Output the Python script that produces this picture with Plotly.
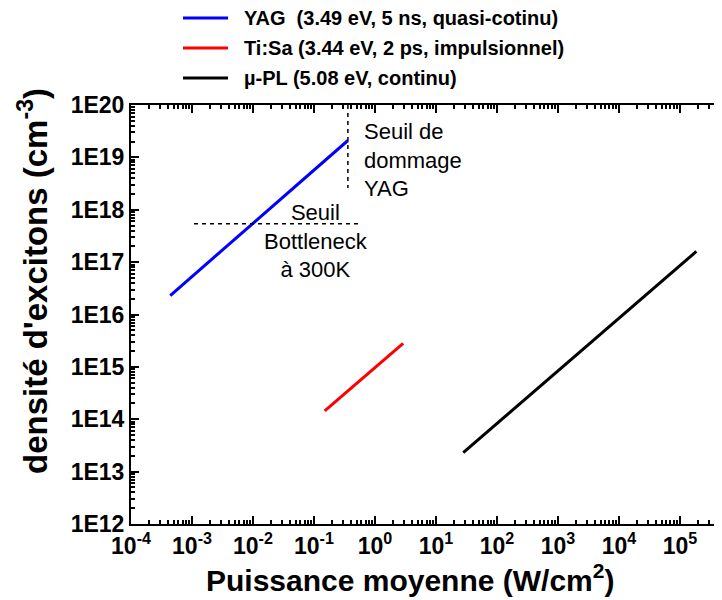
import plotly.graph_objects as go

# ---- data ----
yag_x = [4.4e-4, 0.36]
yag_y = [2.3e16, 2.1e19]
tisa_x = [0.15, 2.9]
tisa_y = [1.45e14, 2.8e15]
upl_x = [28, 1.86e5]
upl_y = [2.3e13, 1.6e17]

seuil_dommage_x = [0.36, 0.36]
seuil_dommage_y = [1e20, 2.6e18]
seuil_bottleneck_x = [1.08e-3, 0.61]
seuil_bottleneck_y = [5.4e17, 5.4e17]

names = ["YAG&nbsp; (3.49 eV, 5 ns, quasi-cotinu)",
         "Ti:Sa (3.44 eV, 2 ps, impulsionnel)",
         "µ-PL (5.08 eV, continu)"]
colors = ["#0000FF", "#FF0000", "#000000"]

x_tickvals = [1e-4, 1e-3, 1e-2, 1e-1, 1e0, 1e1, 1e2, 1e3, 1e4, 1e5]
x_ticktext = ["10<sup>-4</sup>", "10<sup>-3</sup>", "10<sup>-2</sup>", "10<sup>-1</sup>",
              "10<sup>0</sup>", "10<sup>1</sup>", "10<sup>2</sup>", "10<sup>3</sup>",
              "10<sup>4</sup>", "10<sup>5</sup>"]
y_tickvals = [1e12, 1e13, 1e14, 1e15, 1e16, 1e17, 1e18, 1e19, 1e20]
y_ticktext = ["1E12", "1E13", "1E14", "1E15", "1E16", "1E17", "1E18", "1E19", "1E20"]

FONT = "Liberation Sans, Arial, sans-serif"

x_minor = [m * 10.0 ** e for e in range(-4, 6) for m in range(2, 10)]
y_minor = [m * 10.0 ** e for e in range(12, 20) for m in range(2, 10)]

# plot area in page pixels (page has an 8px body margin)
PL, PR, PT, PB = 131, 722, 105, 524
PW, PH = PR - PL, PB - PT


def px(xp):
    return (xp - PL) / PW


def py(yp):
    return (PB - yp) / PH


fig = go.Figure()
for i, (xs, ys) in enumerate([(yag_x, yag_y), (tisa_x, tisa_y), (upl_x, upl_y)]):
    fig.add_trace(go.Scatter(x=xs, y=ys, mode="lines", name=names[i],
                             showlegend=False,
                             line=dict(color=colors[i], width=3)))

fig.add_trace(go.Scatter(x=seuil_dommage_x, y=seuil_dommage_y, mode="lines",
                         showlegend=False, line=dict(color="black", width=1.5, dash="4px,4px")))
fig.add_trace(go.Scatter(x=seuil_bottleneck_x, y=seuil_bottleneck_y, mode="lines",
                         showlegend=False, line=dict(color="black", width=1.5, dash="4px,4px")))

axis_common = dict(showline=True, linewidth=2, linecolor="black", mirror="ticks",
                   ticks="inside", ticklen=8, tickwidth=2, tickcolor="black",
                   showgrid=False, zeroline=False,
                   tickfont=dict(family=FONT, size=23, color="black"))

fig.update_xaxes(type="log", range=[-4, 5.69], tickmode="array",
                 tickvals=x_tickvals, ticktext=["<b>%s</b>" % t for t in x_ticktext],
                 minor=dict(tickmode="array", tickvals=x_minor, ticks="inside", ticklen=4,
                            tickwidth=1.5, tickcolor="black", showgrid=False),
                 **axis_common)
fig.update_yaxes(type="log", range=[12, 20], tickmode="array",
                 tickvals=y_tickvals, ticktext=["<b>%s</b>" % t for t in y_ticktext],
                 minor=dict(tickmode="array", tickvals=y_minor, ticks="inside", ticklen=4,
                            tickwidth=1.5, tickcolor="black", showgrid=False),
                 **axis_common)

annots = [
    dict(x=-0.213, y=18.95, xref="x", yref="y", text="Seuil de<br>dommage<br>YAG",
         xanchor="left", yanchor="middle", align="left", showarrow=False,
         font=dict(family=FONT, size=22, color="black")),
    dict(x=-0.967, y=17.40, xref="x", yref="y", text="Seuil<br>Bottleneck<br>à 300K",
         xanchor="center", yanchor="middle", align="center", showarrow=False,
         font=dict(family=FONT, size=22, color="black")),
    dict(x=px(410), y=py(578), xref="paper", yref="paper",
         text="<b>Puissance moyenne (W/cm<sup>2</sup>)</b>", showarrow=False,
         xanchor="center", yanchor="middle",
         font=dict(family=FONT, size=30, color="black")),
    dict(x=px(33), y=py(281), xref="paper", yref="paper",
         text="<b>densité d'excitons (cm<sup>-3</sup>)</b>", showarrow=False,
         textangle=-90, xanchor="center", yanchor="middle",
         font=dict(family=FONT, size=33, color="black")),
]

# legend (drawn as line samples + labels above the plot)
legend_rows = [18, 48, 78]
shapes = []
for i, name in enumerate(names):
    shapes.append(dict(type="line", xref="paper", yref="paper",
                       x0=px(183), x1=px(228), y0=py(legend_rows[i]), y1=py(legend_rows[i]),
                       line=dict(color=colors[i], width=3)))
    annots.append(dict(x=px(242), y=py(legend_rows[i]), xref="paper", yref="paper",
                       text="<b>%s</b>" % name, showarrow=False,
                       xanchor="left", yanchor="middle",
                       font=dict(family=FONT, size=20, color="black")))

fig.update_layout(
    width=714, height=592,
    margin=dict(l=PL - 8, r=0, t=PT - 8, b=600 - PB, autoexpand=False),
    plot_bgcolor="white", paper_bgcolor="white",
    showlegend=False,
    annotations=annots,
    shapes=shapes,
)

fig.write_html("out.html")
